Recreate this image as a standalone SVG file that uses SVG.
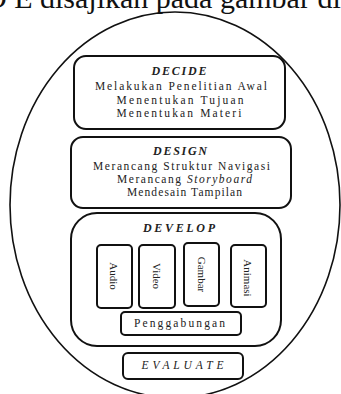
<svg xmlns="http://www.w3.org/2000/svg" width="341" height="394" viewBox="0 0 341 394">
<style>
.bg{fill:#fff}
.frame{fill:none;stroke:#111;stroke-width:1.6}
.box{fill:#fff;stroke:#111;stroke-width:2}
.t{font-family:"Liberation Serif","Times New Roman",serif;font-size:11.5px;fill:#222;text-anchor:middle}
.h{font-weight:bold;font-style:italic;font-size:12px}
.it{font-style:italic}
.v{font-family:"Liberation Serif","Times New Roman",serif;font-size:11px;fill:#222;text-anchor:middle}
.cap{font-family:"Liberation Serif","Times New Roman",serif;font-size:30px;fill:#111}
</style>
<rect class="bg" x="0" y="0" width="341" height="394"/>
<text class="cap" x="-15" y="7.5">D E disajikan pada gambar di</text>
<g id="outer">
<ellipse class="frame" cx="175" cy="205" rx="165" ry="193"/>
</g>
<g id="decide">
<rect class="box" x="74" y="56" width="211" height="73" rx="12"/>
<text class="t h" x="179" y="75" textLength="55" lengthAdjust="spacing">DECIDE</text>
<text class="t" x="181" y="90" textLength="172" lengthAdjust="spacing">Melakukan Penelitian Awal</text>
<text class="t" x="180" y="103.5" textLength="127" lengthAdjust="spacing">Menentukan Tujuan</text>
<text class="t" x="179" y="117" textLength="125" lengthAdjust="spacing">Menentukan Materi</text>
</g>
<g id="design">
<rect class="box" x="71" y="137" width="220" height="71" rx="12"/>
<text class="t h" x="180" y="155" textLength="54" lengthAdjust="spacing">DESIGN</text>
<text class="t" x="181.5" y="170" textLength="177" lengthAdjust="spacing">Merancang Struktur Navigasi</text>
<text class="t" x="184.5" y="183.3" textLength="135" lengthAdjust="spacing">Merancang <tspan class="it">Storyboard</tspan></text>
<text class="t" x="184.5" y="196" textLength="115" lengthAdjust="spacing">Mendesain Tampilan</text>
</g>
<g id="develop">
<rect class="box" x="71" y="213" width="210" height="133" rx="26"/>
<text class="t h" x="179" y="232.3" textLength="72" lengthAdjust="spacing">DEVELOP</text>
</g>
<g id="audio">
<rect class="box" x="97" y="245" width="35" height="63" rx="4"/>
<text class="v" transform="translate(114,276) rotate(90)" x="0" y="3.7">Audio</text>
</g>
<g id="video">
<rect class="box" x="139" y="245" width="36" height="63" rx="4"/>
<text class="v" transform="translate(156.5,276) rotate(90)" x="0" y="3.7">Video</text>
</g>
<g id="gambar">
<rect class="box" x="184" y="243" width="35" height="63" rx="4"/>
<text class="v" transform="translate(201.5,274.5) rotate(90)" x="0" y="3.7">Gambar</text>
</g>
<g id="animasi">
<rect class="box" x="231" y="245" width="35" height="62" rx="4"/>
<text class="v" transform="translate(248,278) rotate(90)" x="0" y="3.7">Animasi</text>
</g>
<g id="penggabungan">
<rect class="box" x="121" y="312" width="120" height="23" rx="4"/>
<text class="t" x="179.5" y="327.3" textLength="91" lengthAdjust="spacing">Penggabungan</text>
</g>
<g id="evaluate">
<rect class="box" x="123" y="353" width="120" height="26" rx="5"/>
<text class="t it" x="182.5" y="369.3" textLength="82" lengthAdjust="spacing">EVALUATE</text>
</g>
<g id="connectors"></g>
</svg>
